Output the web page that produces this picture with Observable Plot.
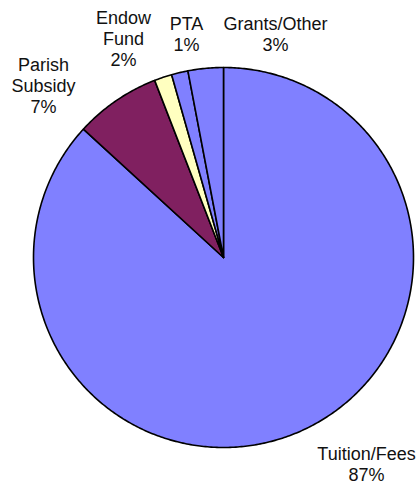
<!DOCTYPE html>
<html>
<head>
<meta charset="utf-8">
<script src="https://cdn.jsdelivr.net/npm/d3@7"></script>
<script src="https://cdn.jsdelivr.net/npm/@observablehq/plot@0.6"></script>
<style>
  html, body { margin: 0; padding: 0; background: #fff; }
  svg { display: block; }
</style>
</head>
<body>
<div id="chart"></div>
<script>
// Data (clockwise from 12 o'clock)
const categories = ["Tuition/Fees", "Parish Subsidy", "Endow Fund", "PTA", "Grants/Other"];
const values = [86.8, 7.3, 1.5, 1.4, 3.0];
const pctLabels = ["87%", "7%", "2%", "1%", "3%"];
const labelText = ["Tuition/Fees", "Parish\nSubsidy", "Endow\nFund", "PTA", "Grants/Other"];
const colors = ["#8080FF", "#802060", "#FFFFC0", "#8080FF", "#8080FF"];

// Layout (pixels)
const W = 419, H = 485, CX = 223, CY = 257, R = 190;
// label block centers in pixel space
const labelPos = {
  "Tuition/Fees": [366, 463],
  "Parish Subsidy": [43, 85],
  "Endow Fund": [123, 38],
  "PTA": [186, 33],
  "Grants/Other": [275, 33]
};

const total = d3.sum(values);
const slicePts = [];
let acc = 0;
categories.forEach((c, i) => {
  const key = c + "#" + i;
  const a0 = acc / total * 2 * Math.PI;
  acc += values[i];
  const a1 = acc / total * 2 * Math.PI;
  const n = Math.max(4, Math.ceil((a1 - a0) / 0.01));
  slicePts.push({key, x: 0, y: 0});
  for (let k = 0; k <= n; k++) {
    const a = a0 + (a1 - a0) * k / n;
    slicePts.push({key, x: Math.sin(a), y: Math.cos(a)});
  }
  slicePts.push({key, x: 0, y: 0});
});

const labels = categories.map((c, i) => {
  const [px, py] = labelPos[c];
  return {text: labelText[i] + "\n" + pctLabels[i], x: (px - CX) / R, y: (CY - py) / R};
});

const chart = Plot.plot({
  width: W,
  height: H,
  margin: 0,
  style: {background: "#fff", fontFamily: "'Liberation Sans', Arial, sans-serif"},
  x: {domain: [-CX / R, (W - CX) / R], range: [0, W], axis: null},
  y: {domain: [-(H - CY) / R, CY / R], range: [H, 0], axis: null},
  color: {domain: categories.map((c, i) => c + "#" + i), range: colors},
  marks: [
    Plot.line(slicePts, {
      x: "x", y: "y", z: "key", fill: "key", stroke: "black", strokeWidth: 1.6,
      strokeLinejoin: "round", curve: "linear"
    }),
    Plot.text(labels, {
      x: "x", y: "y", text: "text", fontSize: 18, lineHeight: 1.16,
      fill: "#111", textAnchor: "middle"
    })
  ]
});
document.getElementById("chart").appendChild(chart);
</script>
</body>
</html>
